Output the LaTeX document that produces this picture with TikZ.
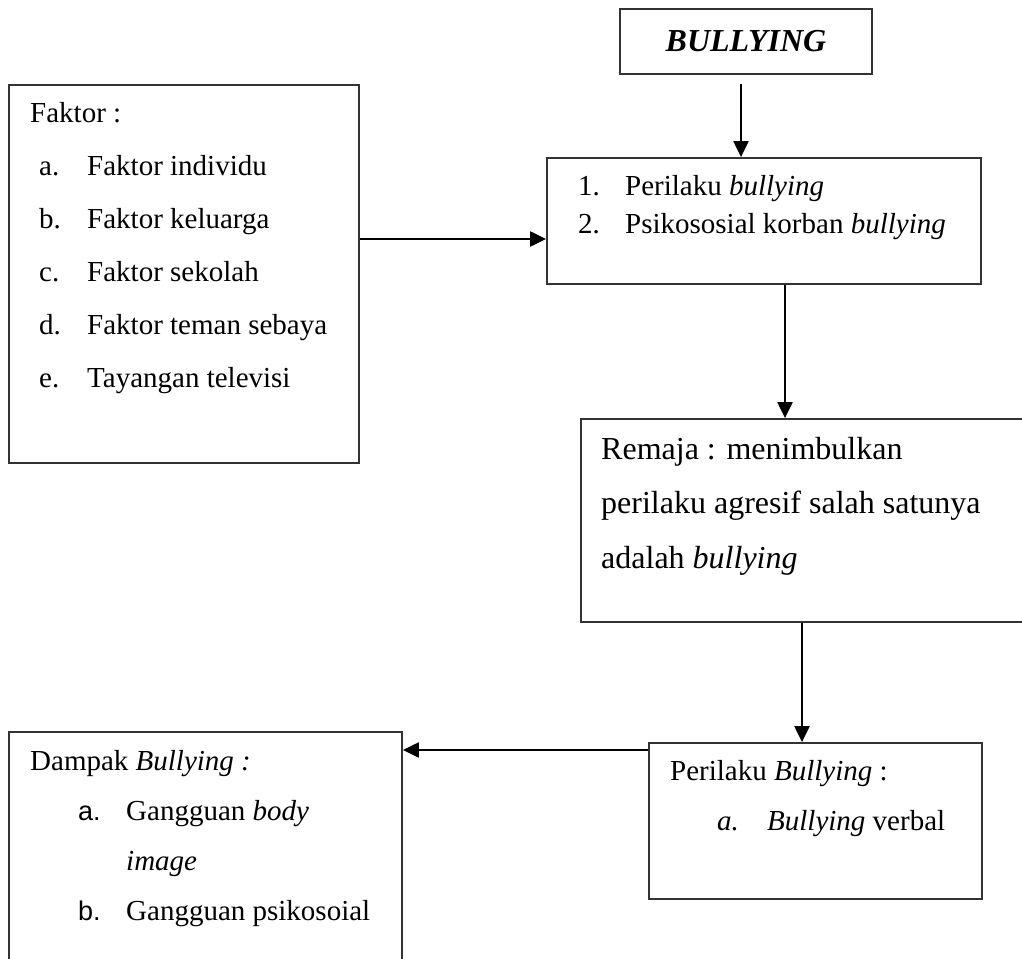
\documentclass[tikz,border=0pt]{standalone}
\usepackage{fontspec}
\setmainfont{Liberation Serif}
\newfontfamily\arialfont{Liberation Sans}
\usetikzlibrary{arrows.meta,positioning,calc}

\begin{document}
\begin{tikzpicture}[x=1pt, y=-1pt,
  box/.style={draw=black!80, line width=1.8pt, inner sep=0pt},
  txt/.style={anchor=base west, inner sep=0pt, font=\fontsize{29}{35}\selectfont},
  sans/.style={txt, font=\fontsize{27}{35}\selectfont\arialfont},
  big/.style={anchor=base west, inner sep=0pt, font=\fontsize{32}{38}\selectfont},
  arr/.style={line width=2.2pt, -{Triangle[length=16pt,width=15pt]}}]
\useasboundingbox (0,0) rectangle (1022,958);
\clip (0,0) rectangle (1022,958);

% boxes
\node[box, minimum width=252pt, minimum height=65pt,
  font=\fontsize{32}{38}\selectfont\bfseries\itshape] (bully) at (746,41.5) {BULLYING};
\node[box, minimum width=434pt, minimum height=126pt] (jenis) at (764,221) {};
\node[box, minimum width=350pt, minimum height=378pt] (faktor) at (184,274) {};
\node[box, minimum width=460pt, minimum height=203pt] (remaja) at (811,520.5) {};
\node[box, minimum width=333pt, minimum height=156pt] (perilaku) at (815.5,821) {};
\node[box, minimum width=393pt, minimum height=260pt] (dampak) at (205.5,862) {};

% faktor
\node[txt] (fk0) at (30,122) {Faktor :};
\foreach \l/\t [count=\i] in {a./Faktor individu, b./Faktor keluarga,
    c./Faktor sekolah, d./Faktor teman sebaya, e./Tayangan televisi} {
  \node[txt] (fl\i) at (39,{122+53*\i}) {\l};
  \node[txt] (ft\i) at (87,{122+53*\i}) {\t};
}

% jenis
\node[txt] (j1n) at (578,195) {1.};
\node[txt] (j1) at (625,195) {Perilaku \textit{bullying}};
\node[txt] (j2n) at (578,233) {2.};
\node[txt] (j2) at (625,233) {Psikososial korban \textit{bullying}};

% remaja
\node[big] (r1) at (601,459) {Remaja : menimbulkan};
\node[big] (r2) at (601,513) {perilaku agresif salah satunya};
\node[big] (r3) at (601,568) {adalah \textit{bullying}};

% perilaku
\node[txt] (p0) at (670,780) {Perilaku \textit{Bullying} :};
\node[txt] (p1n) at (717,830) {\textit{a.}};
\node[txt] (p1) at (767,830) {\textit{Bullying} verbal};

% dampak
\node[txt] (d0) at (30,770) {Dampak \textit{Bullying :}};
\node[sans] (d1n) at (78,820) {a.};
\node[txt] (d1) at (126,820) {Gangguan \textit{body}};
\node[txt] (d1b) at (126,870) {\textit{image}};
\node[sans] (d2n) at (78,920) {b.};
\node[txt] (d2) at (126,920) {Gangguan psikosoial};

% arrows
\coordinate (b1) at (741,84);
\draw[arr] (b1) -- (b1 |- jenis.north);
\draw[arr] (faktor.east |- 0,239) -- (jenis.west |- 0,239);
\draw[arr] (jenis.south -| 785,0) -- (remaja.north -| 785,0);
\draw[arr] (remaja.south -| 802,0) -- (perilaku.north -| 802,0);
\draw[arr] (perilaku.west |- 0,750) -- (dampak.east |- 0,750);
\end{tikzpicture}
\end{document}
